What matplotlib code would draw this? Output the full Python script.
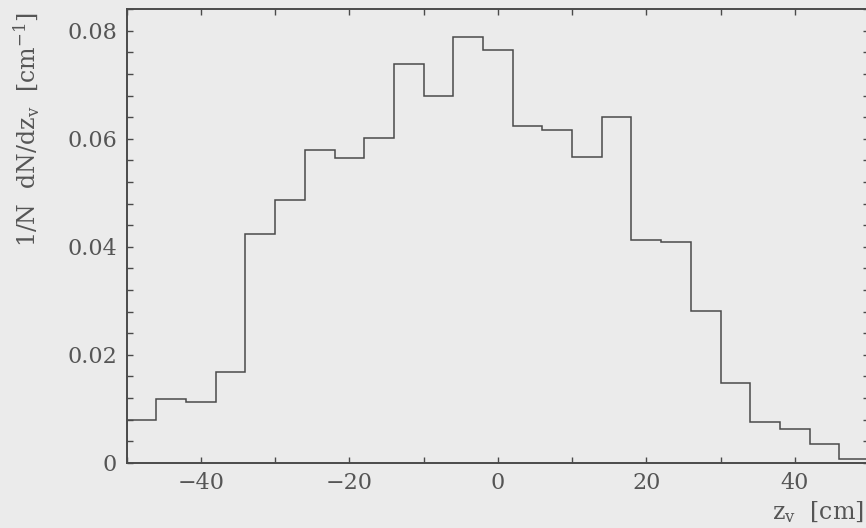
import numpy as np
import matplotlib
matplotlib.use("Agg")
from matplotlib import pyplot as plt
from matplotlib.ticker import MultipleLocator, FuncFormatter

# === Daten: Histogramm der Vertex-z-Verteilung ===
bin_edges = [-50, -46, -42, -38, -34, -30, -26, -22, -18, -14, -10, -6, -2,
             2, 6, 10, 14, 18, 22, 26, 30, 34, 38, 42, 46, 50]
dn_dz = [0.0080, 0.0118, 0.0112, 0.0168, 0.0423, 0.0486, 0.0580, 0.0564,
         0.0602, 0.0738, 0.0679, 0.0789, 0.0765, 0.0624, 0.0617, 0.0567,
         0.0641, 0.0412, 0.0408, 0.0281, 0.0147, 0.0076, 0.0062, 0.0035,
         0.0007]
x_ticks = [-40, -20, 0, 20, 40]
y_ticks = [0, 0.02, 0.04, 0.06, 0.08]

paper = "#ebebeb"
ink = "#4a4a4a"
plt.rcParams["font.family"] = ["DejaVu Serif"]
plt.rcParams["mathtext.fontset"] = "dejavuserif"

fig = plt.figure(figsize=(8.66, 5.28), dpi=100, facecolor=paper)
ax = fig.add_axes([126.7 / 866, 65.3 / 528, (869 - 126.7) / 866, (462.7 - 9.3) / 528])
ax.set_facecolor(paper)

ax.stairs(dn_dz, bin_edges, color=ink, linewidth=1.1)

ax.set_xlim(-50, 50)
ax.set_ylim(0, 0.084)
ax.set_xticks(x_ticks)
ax.set_yticks(y_ticks)
ax.xaxis.set_minor_locator(MultipleLocator(10))
ax.yaxis.set_minor_locator(MultipleLocator(0.004))
ax.yaxis.set_major_formatter(FuncFormatter(lambda v, p: "0" if v == 0 else f"{v:.2f}"))
ax.xaxis.set_major_formatter(FuncFormatter(lambda v, p: f"{v:.0f}".replace("-", "\u2212")))

for which in ("major", "minor"):
    ax.tick_params(which=which, direction="in", length=4, width=1.0, color=ink,
                   top=True, right=True)
ax.tick_params(which="major", labelsize=16, labelcolor="#555555", pad=7)
for s in ax.spines.values():
    s.set_color(ink)
    s.set_linewidth(1.4)

fig.text(27 / 866, 1 - 130 / 528, r"1/N  dN/dz$_\mathrm{v}$  [cm$^{-1}$]", rotation=90,
         ha="center", va="center", fontsize=17, color="#555555")
fig.text(864 / 866, 1 - 512 / 528, r"z$_\mathrm{v}$  [cm]", ha="right", va="center",
         fontsize=17, color="#555555")

fig.savefig("out.png", dpi=100, facecolor=paper)
